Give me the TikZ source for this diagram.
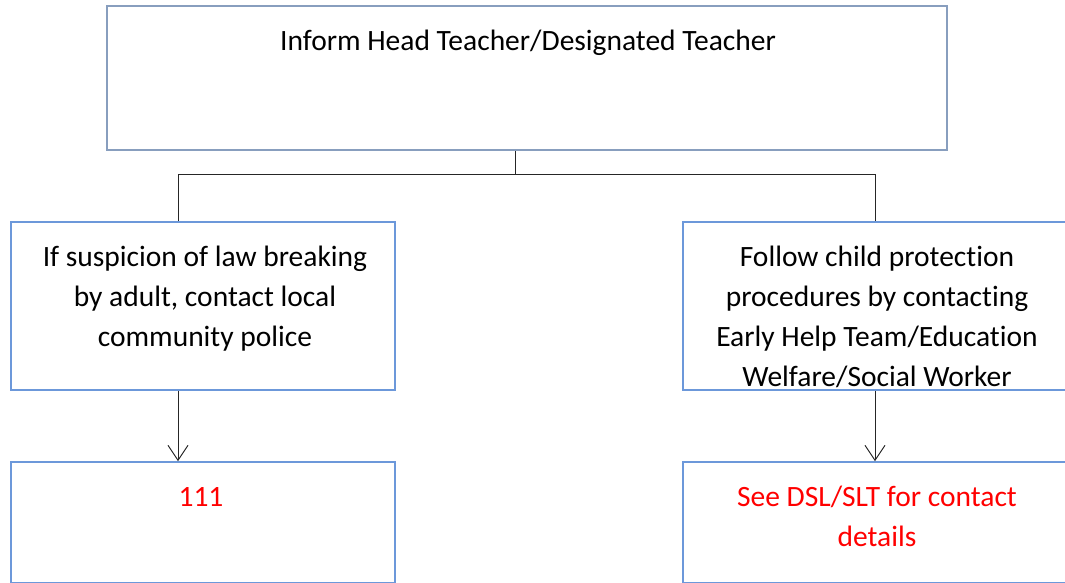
\documentclass[tikz,border=0pt]{standalone}
\usepackage{fontspec}
\setmainfont{Carlito}[Ligatures=NoCommon]
\usetikzlibrary{arrows.meta}
\definecolor{boxblue}{RGB}{108,152,218}
\definecolor{topblue}{RGB}{136,158,190}
\definecolor{txtred}{RGB}{255,0,0}
\tikzset{
  box/.style={draw=boxblue, line width=1.6pt, fill=white, inner sep=0pt},
  txt/.style={anchor=base, align=center, inner sep=0pt, font=\fontsize{29.5}{40}\selectfont},
  conn/.style={draw=black!85, line width=1pt},
  arr/.style={conn, -{Straight Barb[length=15pt,width=20pt,line width=1pt]}}
}
\begin{document}
\begin{tikzpicture}[x=1pt,y=-1pt]
\useasboundingbox (0,0) rectangle (1065,583);
\node[box, draw=topblue, minimum width=840pt, minimum height=144pt] (top) at (527,78) {};
\node[box, minimum width=384pt, minimum height=168pt] (left) at (203,306) {};
\node[box, minimum width=386pt, minimum height=168pt] (right) at (876,306) {};
\node[box, minimum width=384pt, minimum height=121pt] (bl) at (203,522.5) {};
\node[box, minimum width=386pt, minimum height=121pt] (br) at (876,522.5) {};
\node[txt] (ttop) at (528,51) {Inform Head Teacher/Designated Teacher};
\node[txt] (tleft) at (205,346) {If suspicion of law breaking\\by adult, contact local\\community police};
\node[txt] (tright) at (877,386) {Follow child protection\\procedures by contacting\\Early Help Team/Education\\Welfare/Social Worker};
\node[txt, text=txtred] (tbl) at (201,506) {111};
\node[txt, text=txtred] (tbr) at (877,546) {See DSL/SLT for contact\\details};
\coordinate (j) at (515,174);
\coordinate (jl) at (178,174);
\coordinate (jr) at (875,174);
\draw[conn] (top.south -| j) -- (j);
\draw[conn] (left.north -| jl) -- (jl) -- (jr) -- (right.north -| jr);
\draw[arr] (left.south -| jl) -- (bl.north -| jl);
\draw[arr] (right.south -| jr) -- (br.north -| jr);
\end{tikzpicture}
\end{document}
